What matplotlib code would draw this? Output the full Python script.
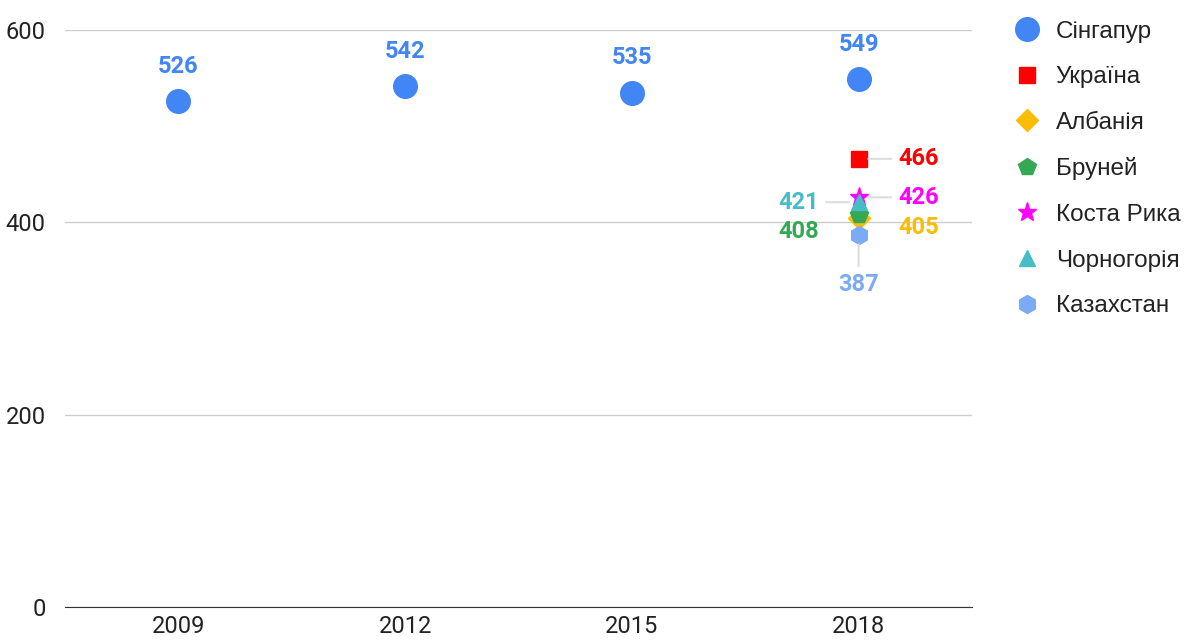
import matplotlib
matplotlib.use("Agg")
from matplotlib import pyplot as plt
from matplotlib.lines import Line2D

plt.rcParams['font.family'] = ['Roboto', 'DejaVu Sans']

years = ["2009", "2012", "2015", "2018"]
singapore = [526, 542, 535, 549]

# countries shown only for 2018
countries = ["Україна", "Албанія", "Бруней", "Коста Рика", "Чорногорія", "Казахстан"]
values_2018 = [466, 405, 408, 426, 421, 387]
colors = ["#ff0000", "#fbbc04", "#34a853", "#ff00ff", "#46bdc6", "#7baaf7"]
markers = ["s", "D", "p", "*", "^", "h"]
sizes = [12, 11, 13, 14, 12, 13]
# label offsets in points (dx, dy) and whether a leader line is drawn
offsets = [(43, 0), (43, -7), (-43, -12), (43, 0), (-43, 0), (0, -36)]
leaders = [True, False, False, True, True, True]

fig = plt.figure(figsize=(11.9, 6.44), dpi=100)
ax = fig.add_axes([0.0546, 0.0575, 0.7622, 0.8959])

x = range(len(years))
ax.plot(x, singapore, linestyle="none", marker="o", markersize=17,
        color="#4285f4", label="Сінгапур", zorder=3)
for xi, v in zip(x, singapore):
    ax.annotate(str(v), (xi, v), xytext=(0, 25), textcoords="offset points",
                ha="center", va="center", fontsize=17, fontweight="bold",
                color="#4285f4")

xi = 3
for name, v, c, m, s, off, lead in zip(countries, values_2018, colors, markers,
                                       sizes, offsets, leaders):
    ax.plot([xi], [v], linestyle="none", marker=m, markersize=s, color=c,
            label=name, zorder=3)
    arrow = dict(arrowstyle="-", color="#dddddd", lw=1.5, shrinkA=3, shrinkB=7) if lead else None
    ax.annotate(str(v), (xi, v), xytext=off, textcoords="offset points",
                ha="center", va="center", fontsize=17, fontweight="bold",
                color=c, arrowprops=arrow, zorder=4)

ax.set_xlim(-0.5, 3.5)
ax.set_ylim(0, 600)
ax.set_yticks([0, 200, 400, 600])
ax.set_xticks(list(x))
ax.set_xticklabels(years)
ax.grid(axis="y", color="#cccccc", lw=1)
ax.set_axisbelow(True)
for sp in ["top", "right", "left"]:
    ax.spines[sp].set_visible(False)
ax.spines["bottom"].set_color("#333333")
ax.tick_params(axis="both", length=0, labelsize=17, colors="#222222", pad=6)
ax.tick_params(axis="y", pad=14)

handles = [Line2D([], [], linestyle="none", marker="o", markersize=17, color="#4285f4")]
for c, m, s in zip(colors, markers, sizes):
    handles.append(Line2D([], [], linestyle="none", marker=m, markersize=min(s, 14), color=c))
labels = ["Сінгапур"] + countries
fig.legend(handles, labels, loc="upper left", bbox_to_anchor=(0.829, 1.002),
           frameon=False, prop={"family": "Liberation Sans", "size": 17.5},
           labelspacing=0.97, handletextpad=0.45, handlelength=1.5,
           labelcolor="#222222")

fig.savefig("out.png", dpi=100)
